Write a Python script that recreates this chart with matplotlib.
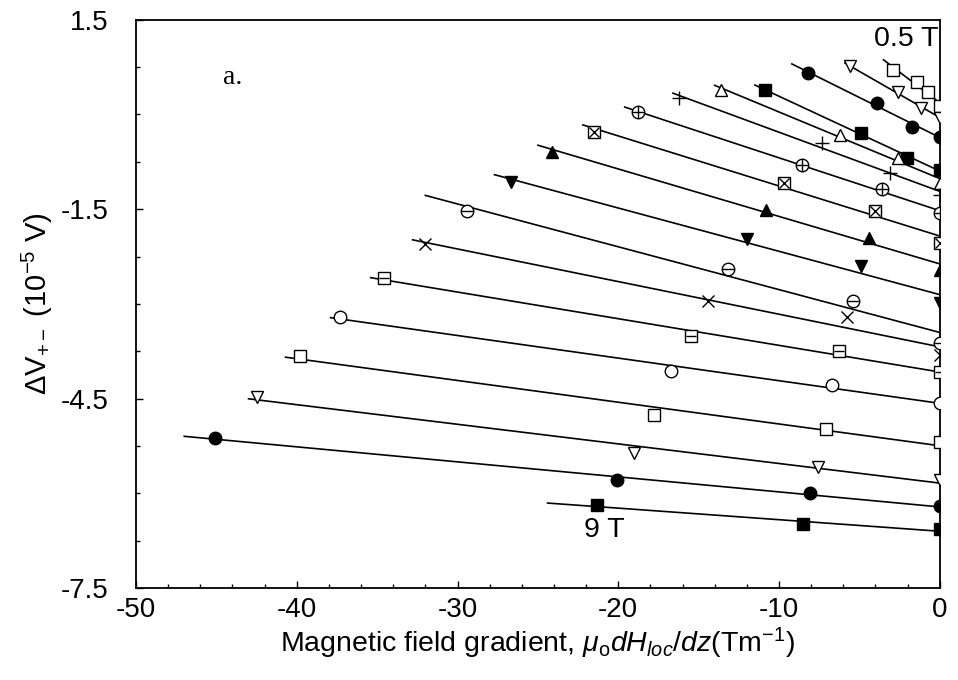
import numpy as np
import matplotlib
matplotlib.use("Agg")
import matplotlib.pyplot as plt
from matplotlib.ticker import MultipleLocator

plt.rcParams['font.family'] = ['Liberation Sans', 'DejaVu Sans']
plt.rcParams['mathtext.fontset'] = 'custom'
plt.rcParams['mathtext.rm'] = 'Liberation Sans'
plt.rcParams['mathtext.it'] = 'Liberation Sans:italic'
plt.rcParams['mathtext.sf'] = 'Liberation Sans'
plt.rcParams['axes.unicode_minus'] = False

# ---- data (field in T, gradient in T/m, dV in 1e-5 V) ----
fields = [0.5, 1.0, 1.5, 2.0, 2.5, 3.0, 3.5, 4.0, 4.5, 5.0, 5.5, 6.0, 6.5, 7.0, 7.5, 8.0, 8.5, 9.0]
grad = [
    [-2.9, -1.4, -0.75, 0.0],
    [-5.6, -2.6, -1.2, 0.0],
    [-8.2, -3.9, -1.7, 0.0],
    [-10.9, -4.9, -2.05, 0.0],
    [-13.6, -6.2, -2.6, 0.0],
    [-16.2, -7.3, -3.1, 0.0],
    [-18.8, -8.6, -3.6, 0.0],
    [-21.5, -9.7, -4.0, 0.0],
    [-24.1, -10.8, -4.4, 0.0],
    [-26.7, -12.0, -4.9, 0.0],
    [-29.4, -13.2, -5.4, 0.0],
    [-32.0, -14.4, -5.8, 0.0],
    [-34.6, -15.5, -6.3, 0.0],
    [-37.3, -16.7, -6.7, 0.0],
    [-39.8, -17.8, -7.1, 0.0],
    [-42.5, -19.0, -7.6, 0.0],
    [-45.1, -20.1, -8.1, 0.0],
    [-21.3, -8.5, 0.0],
]
dv = [
    [0.71, 0.52, 0.36, 0.13],
    [0.76, 0.36, 0.11, -0.05],
    [0.66, 0.18, -0.20, -0.35],
    [0.39, -0.29, -0.69, -0.88],
    [0.39, -0.32, -0.69, -1.08],
    [0.26, -0.45, -0.92, -1.27],
    [0.04, -0.80, -1.18, -1.56],
    [-0.27, -1.08, -1.53, -2.03],
    [-0.59, -1.51, -1.95, -2.46],
    [-1.07, -1.97, -2.40, -2.98],
    [-1.53, -2.45, -2.95, -3.62],
    [-2.05, -2.95, -3.21, -3.81],
    [-2.59, -3.51, -3.75, -4.08],
    [-3.21, -4.06, -4.28, -4.57],
    [-3.82, -4.76, -4.98, -5.19],
    [-4.47, -5.36, -5.58, -5.79],
    [-5.12, -5.79, -6.00, -6.20],
    [-6.19, -6.49, -6.57],
]
# left end of each fitted line (T/m)
fit_xmin = [-3.5, -5.9, -9.2, -11.5, -14.0, -16.6, -19.6, -22.2, -25.0, -27.7,
            -32.0, -32.8, -35.4, -37.9, -40.7, -43.0, -47.0, -24.4]

# ---- styles: (base marker, filled, overlay marker) ----
styles = [
    ('s', False, None),
    ('v', False, None),
    ('o', True, None),
    ('s', True, None),
    ('^', False, None),
    ('+', False, None),
    ('o', False, '+'),
    ('s', False, 'x'),
    ('^', True, None),
    ('v', True, None),
    ('o', False, '_'),
    ('x', False, None),
    ('s', False, '_'),
    ('o', False, None),
    ('s', False, None),
    ('v', False, None),
    ('o', True, None),
    ('s', True, None),
]

fig = plt.figure(figsize=(9.58, 6.80), dpi=100)
ax = fig.add_axes([0.142, 0.135, 0.839, 0.836])

for xs, ys, x0, (mk, filled, ov) in zip(grad, dv, fit_xmin, styles):
    xs = np.array(xs); ys = np.array(ys)
    k, b = np.polyfit(xs, ys, 1)
    xl = np.array([x0, 0.0])
    ax.plot(xl, k * xl + b, color='black', lw=1.2, zorder=2)
    size = {'o': 9, 's': 8, 'v': 9, '^': 9, '+': 10, 'x': 9}[mk]
    ax.plot(xs, ys, ls='none', marker=mk, ms=size,
            mfc='black' if filled else 'white', mec='black', mew=1.0, zorder=3)
    if ov is not None:
        ax.plot(xs, ys, ls='none', marker=ov, ms=size - 1, mec='black',
                mew=1.0, zorder=4)

ax.set_xlim(-50, 0)
ax.set_ylim(-7.5, 1.5)
ax.set_xticks([-50, -40, -30, -20, -10, 0])
ax.set_yticks([1.5, -1.5, -4.5, -7.5])
ax.xaxis.set_minor_locator(MultipleLocator(2))
ax.yaxis.set_minor_locator(MultipleLocator(0.75))
ax.tick_params(which='both', direction='in', top=False, right=False,
               labelsize=20, width=1)
ax.tick_params(which='major', length=5)
ax.tick_params(which='minor', length=3)
ax.tick_params(axis='x', which='major', pad=6)
ax.tick_params(axis='y', which='major', pad=20)
for s in ax.spines.values():
    s.set_linewidth(1.3)

ax.set_xlabel(r'Magnetic field gradient, $\mu_{\mathrm{o}}$$dH_{loc}$/$dz$(Tm$^{-1}$)',
              fontsize=20.5, labelpad=2)
ax.set_ylabel(r'$\Delta$V$_{+-}$ (10$^{-5}$ V)', fontsize=21, labelpad=4)

ax.text(-44.6, 0.58, 'a.', fontsize=20, family='Liberation Serif', va='center')
ax.text(-0.1, 1.2, '0.5 T', fontsize=20.5, ha='right', va='center')
ax.text(-19.6, -6.58, '9 T', fontsize=20.5, ha='right', va='center')

fig.savefig('out.png', dpi=100)
